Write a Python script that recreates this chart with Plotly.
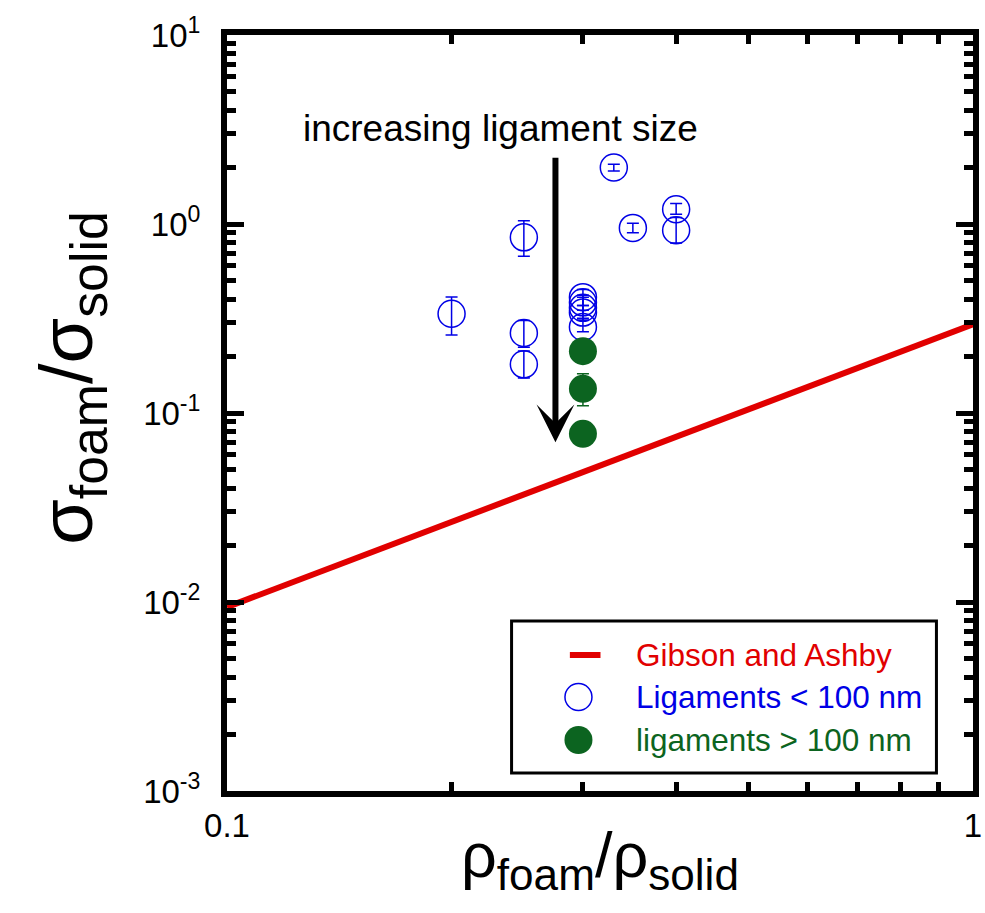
import numpy as np
import plotly.graph_objects as go

# ---------------- data ----------------
gibson_x = [0.1, 1.0]
gibson_y = [0.0094, 0.295]

small_x = [0.20, 0.25, 0.25, 0.25, 0.30, 0.30, 0.30, 0.30, 0.30, 0.33, 0.35, 0.40, 0.40]
small_y = [0.335, 0.85, 0.265, 0.181, 0.41, 0.385, 0.36, 0.34, 0.285, 1.99, 0.953, 1.197, 0.927]
small_err_plus = [0.076, 0.19, 0.044, 0.032, 0.04, 0.035, 0.05, 0.03, 0.032, 0.083, 0.056, 0.085, 0.155]
small_err_minus = [0.076, 0.175, 0.042, 0.028, 0.04, 0.035, 0.05, 0.03, 0.016, 0.08, 0.053, 0.07, 0.133]

large_x = [0.30, 0.30, 0.30]
large_y = [0.2125, 0.1343, 0.0776]
large_err_plus = [0.01, 0.027, 0.0]
large_err_minus = [0.01, 0.025, 0.0]

x_tickvals = [0.1, 1]
x_ticktext = ["0.1", "1"]
x_minor = [0.2, 0.3, 0.4, 0.5, 0.6, 0.7, 0.8, 0.9]
y_tickvals = [0.001, 0.01, 0.1, 1, 10]
y_ticktext = ["10<sup>-3</sup>", "10<sup>-2</sup>", "10<sup>-1</sup>", "10<sup>0</sup>", "10<sup>1</sup>"]
y_minor = [m * d for d in [0.001, 0.01, 0.1, 1] for m in range(2, 10)]

arrow_x = 0.2756
arrow_y_start = 2.285
arrow_y_end = 0.070

legend_labels = ["Gibson and Ashby", "Ligaments &lt; 100 nm", "ligaments &gt; 100 nm"]

# ---------------- style ----------------
FONT = "Liberation Sans, Arial, sans-serif"
RED = "rgb(225,0,0)"
BLUE = "rgb(0,0,230)"
GREEN = "rgb(12,100,32)"

W, H = 985, 913
L, R, T, B = 227, 3, 35, 122
PW, PH = W - L - R, H - T - B


def px2paper(px, py):
    return (px - L) / PW, (H - B - py) / PH


fig = go.Figure()

fig.add_trace(go.Scatter(
    x=gibson_x, y=gibson_y, mode="lines",
    line=dict(color=RED, width=6), name=legend_labels[0], showlegend=False,
))

fig.add_trace(go.Scatter(
    x=small_x, y=small_y, mode="markers", name=legend_labels[1], showlegend=False,
    marker=dict(symbol="circle-open", size=27, color=BLUE, line=dict(width=1.5, color=BLUE)),
    error_y=dict(type="data", symmetric=False, array=small_err_plus, arrayminus=small_err_minus,
                 color=BLUE, thickness=1.5, width=6),
))

fig.add_trace(go.Scatter(
    x=large_x, y=large_y, mode="markers", name=legend_labels[2], showlegend=False,
    marker=dict(symbol="circle", size=28, color=GREEN, line=dict(width=0)),
    error_y=dict(type="data", symmetric=False, array=large_err_plus, arrayminus=large_err_minus,
                 color=GREEN, thickness=1.5, width=6),
))

annotations = []
shapes = []

# arrow
annotations.append(dict(
    x=np.log10(arrow_x), y=np.log10(arrow_y_end), xref="x", yref="y",
    ax=np.log10(arrow_x), ay=np.log10(arrow_y_start), axref="x", ayref="y",
    showarrow=True, arrowhead=3, arrowsize=1.05, arrowwidth=6, arrowcolor="black", text="",
))

# text above arrow
tx, ty = px2paper(503.7, 128)
annotations.append(dict(
    x=tx, y=ty, xref="paper", yref="paper", xanchor="center", yanchor="middle",
    text="increasing ligament size", showarrow=False,
    font=dict(family=FONT, size=37, color="black"),
))

# axis titles
xt, yt = px2paper(604, 860)
annotations.append(dict(
    x=xt, y=yt, xref="paper", yref="paper", xanchor="center", yanchor="middle",
    text="ρ<sub>foam</sub>/ρ<sub>solid</sub>", showarrow=False,
    font=dict(family=FONT, size=63, color="black"),
))
xt, yt = px2paper(70, 378)
annotations.append(dict(
    x=xt, y=yt, xref="paper", yref="paper", xanchor="center", yanchor="middle",
    text="σ<sub>foam</sub>/σ<sub>solid</sub>", showarrow=False, textangle=-90,
    font=dict(family=FONT, size=74, color="black"),
))

# manual legend
x0, y1 = px2paper(515, 621)
x1, y0 = px2paper(945, 773)
shapes.append(dict(type="rect", xref="paper", yref="paper", x0=x0, x1=x1, y0=y0, y1=y1,
                   line=dict(color="black", width=3), fillcolor="white", layer="above"))
lx0, ly = px2paper(574, 655)
lx1, _ = px2paper(605, 655)
shapes.append(dict(type="line", xref="paper", yref="paper", x0=lx0, x1=lx1, y0=ly, y1=ly,
                   line=dict(color=RED, width=6), layer="above"))
cx, cy = px2paper(582.7, 697)
shapes.append(dict(type="circle", xref="paper", yref="paper", xsizemode="pixel", ysizemode="pixel",
                   xanchor=cx, yanchor=cy, x0=-13.5, x1=13.5, y0=-13.5, y1=13.5,
                   line=dict(color=BLUE, width=1.5), fillcolor="rgba(0,0,0,0)", layer="above"))
cx, cy2 = px2paper(582.7, 740)
shapes.append(dict(type="circle", xref="paper", yref="paper", xsizemode="pixel", ysizemode="pixel",
                   xanchor=cx, yanchor=cy2, x0=-14, x1=14, y0=-14, y1=14,
                   line=dict(color=GREEN, width=0), fillcolor=GREEN, layer="above"))
for label, color, py in zip(legend_labels, [RED, BLUE, GREEN], [655, 697, 740]):
    tx, ty = px2paper(639, py)
    annotations.append(dict(
        x=tx, y=ty, xref="paper", yref="paper", xanchor="left", yanchor="middle",
        text=label, showarrow=False, font=dict(family=FONT, size=31.5, color=color),
    ))

axis_common = dict(
    type="log", showline=True, linewidth=6, linecolor="black", mirror="ticks",
    ticks="inside", ticklen=17, tickwidth=5, tickcolor="black",
    showgrid=False, zeroline=False,
)

fig.update_layout(
    width=W, height=H,
    margin=dict(l=L, r=R, t=T, b=B, pad=0),
    paper_bgcolor="white", plot_bgcolor="white",
    showlegend=False,
    font=dict(family=FONT, color="black"),
    xaxis=dict(
        **axis_common, range=[-1, 0],
        tickmode="array", tickvals=x_tickvals, ticktext=x_ticktext,
        tickfont=dict(family=FONT, size=33, color="black"), ticklabelstandoff=0,
        ticklabeloverflow="allow",
        minor=dict(tickmode="array", tickvals=x_minor, ticks="inside", ticklen=9,
                   tickwidth=5, tickcolor="black", showgrid=False),
    ),
    yaxis=dict(
        **axis_common, range=[-3, 1],
        tickmode="array", tickvals=y_tickvals, ticktext=y_ticktext,
        tickfont=dict(family=FONT, size=33, color="black"), ticklabelstandoff=14,
        ticklabeloverflow="allow",
        minor=dict(tickmode="array", tickvals=y_minor, ticks="inside", ticklen=9,
                   tickwidth=5, tickcolor="black", showgrid=False),
    ),
    annotations=annotations,
    shapes=shapes,
)

fig.write_html(
    "out.html",
    config={"displayModeBar": False},
    post_script="document.body.style.margin='0px';document.documentElement.style.overflow='hidden';",
)
